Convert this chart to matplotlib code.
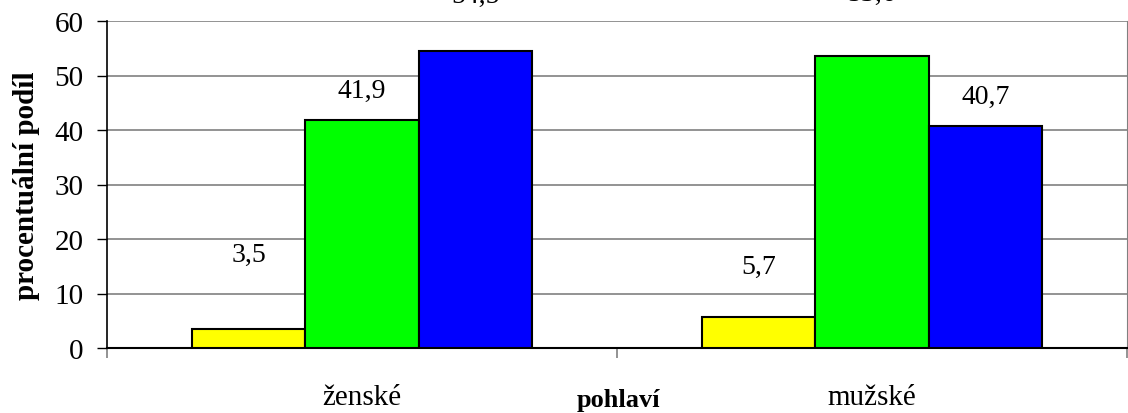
import numpy as np
import matplotlib
matplotlib.use("Agg")
from matplotlib import pyplot as plt

# data
categories = ["ženské", "mužské"]
series_colors = ["#FFFF00", "#00FF00", "#0000FF"]
values = [
    [3.5, 41.9, 54.5],   # ženské
    [5.7, 53.6, 40.7],   # mužské
]
# posun popisku nad sloupcem (ruční posun jako v Excelu)
label_offsets = [
    [13.7, 5.3, 10.2],
    [9.2, 11.5, 5.4],
]
y_ticks = [0, 10, 20, 30, 40, 50, 60]

plt.rcParams["font.family"] = ["Liberation Serif", "DejaVu Serif"]

fig = plt.figure(figsize=(11.28, 4.14), dpi=100)
ax = fig.add_axes([107 / 1128, 1 - 349 / 414, 1020 / 1128, 327 / 414])

x = np.arange(len(categories))
width = 2 / 9
for i in range(len(series_colors)):
    heights = [row[i] for row in values]
    pos = x + (i - 1) * width
    ax.bar(pos, heights, width=width, color=series_colors[i],
           edgecolor="black", linewidth=1.5, zorder=3)
    for j, h in enumerate(heights):
        ax.text(pos[j], h + label_offsets[j][i], f"{h:.1f}".replace(".", ","),
                ha="center", va="center", fontsize=20, clip_on=False, zorder=4)

ax.set_xlim(-0.5, len(categories) - 0.5)
ax.set_ylim(0, 60)
ax.set_yticks(y_ticks)
ax.tick_params(axis="y", labelsize=21, length=7, width=1, direction="out", pad=10)

ax.set_xticks(x)
ax.set_xticklabels(categories, fontsize=21)
ax.tick_params(axis="x", which="major", length=0, pad=26)
ax.set_xticks(np.arange(len(categories) + 1) - 0.5, minor=True)
ax.tick_params(axis="x", which="minor", length=7, width=1.2, color="#808080")

ax.yaxis.grid(True, color="#808080", linewidth=1.2, zorder=0)
ax.spines["top"].set_visible(False)
ax.spines["right"].set_color("#808080")
ax.spines["left"].set_linewidth(1.2)
ax.spines["bottom"].set_linewidth(1.5)

ax.set_ylabel("procentuální podíl", fontsize=21, fontweight="bold", labelpad=10)
fig.text(619 / 1128, 1 - 401 / 414, "pohlaví", ha="center", va="center",
         fontsize=19, fontweight="bold")

fig.savefig("out.png", dpi=100)
